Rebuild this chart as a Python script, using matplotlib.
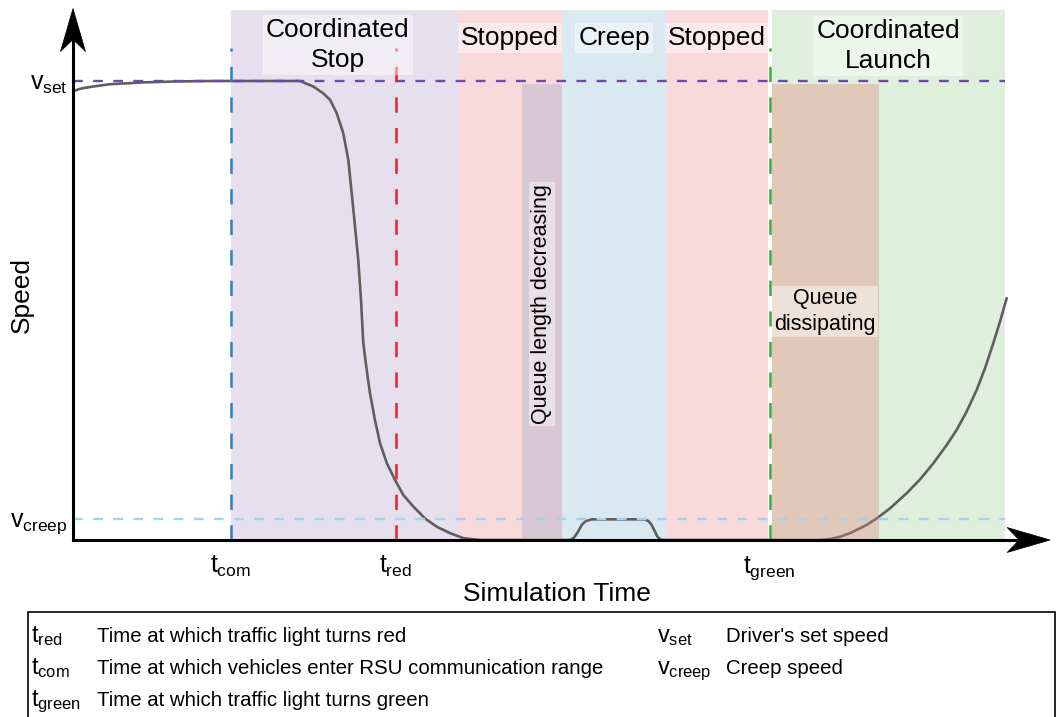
import numpy as np
import matplotlib
matplotlib.use('Agg')
import matplotlib.pyplot as plt
from matplotlib.patches import Polygon, Rectangle
from matplotlib.transforms import ScaledTranslation

plt.rcParams['font.family'] = ['Liberation Sans', 'DejaVu Sans']
plt.rcParams['mathtext.fontset'] = 'custom'
plt.rcParams['mathtext.rm'] = 'Liberation Sans'
plt.rcParams['mathtext.it'] = 'Liberation Sans'
plt.rcParams['mathtext.bf'] = 'Liberation Sans:bold'
plt.rcParams['lines.scale_dashes'] = False

# ---------------- data ----------------
t_com, t_red, t_green = 16.05, 32.8, 70.8
v_set, v_creep = 1.0, 0.046

phase_names = ['Coordinated\nStop', 'Stopped', 'Creep', 'Stopped', 'Coordinated\nLaunch']
phase_start = [16.05, 39.1, 49.7, 60.3, 71.0]
phase_end = [39.1, 49.7, 60.3, 70.6, 94.7]
phase_label_x = [26.9, 44.4, 55.0, 65.45, 82.85]
phase_label_y = [1.078, 1.094, 1.094, 1.094, 1.076]

queue_names = ['Queue length decreasing', 'Queue\ndissipating']
queue_start = [45.6, 71.0]
queue_end = [49.7, 81.9]
queue_top = 0.993

time = [0.2, 0.71, 1.2, 2.06, 3.76, 5.5, 7.1, 10.5, 14.0, 23.07,
        24.42, 25.44, 26.12, 26.80, 27.47, 27.98, 28.32, 28.66, 28.99, 29.27,
        29.50, 29.85, 30.18, 30.69, 31.20, 31.88, 32.72, 33.57, 34.58, 35.77,
        36.96, 38.31, 39.67, 41.36,
        50.5, 50.9, 51.3, 51.7, 52.1, 52.7, 58.1, 58.5, 58.8, 59.1, 59.4, 59.8,
        75.91, 76.93, 77.95, 78.96, 79.64, 80.66, 81.68, 83.03, 84.73, 86.08,
        87.43, 88.79, 89.81, 90.82, 91.84, 92.68, 93.53, 94.21, 94.89]
speed = [0.979, 0.983, 0.985, 0.988, 0.993, 0.995, 0.997, 0.999, 1.0, 1.0,
         0.988, 0.973, 0.959, 0.930, 0.886, 0.828, 0.756, 0.683, 0.610, 0.523,
         0.429, 0.370, 0.320, 0.261, 0.211, 0.168, 0.131, 0.098, 0.073, 0.047,
         0.029, 0.015, 0.004, 0.0,
         0.0, 0.005, 0.017, 0.033, 0.041, 0.045, 0.045, 0.041, 0.033, 0.020, 0.007, 0.0,
         0.0, 0.002, 0.007, 0.015, 0.022, 0.033, 0.047, 0.069, 0.102, 0.132,
         0.167, 0.207, 0.240, 0.280, 0.327, 0.374, 0.429, 0.476, 0.527]

legend_symbols_left = [r'$t_{red}$', r'$t_{com}$', r'$t_{green}$']
legend_text_left = ['Time at which traffic light turns red',
                    'Time at which vehicles enter RSU communication range',
                    'Time at which traffic light turns green']
legend_symbols_right = [r'$v_{set}$', r'$v_{creep}$']
legend_text_right = ["Driver's set speed", 'Creep speed']

# ---------------- styles ----------------
phase_colors = ['#E6E0EE', '#F8DADB', '#DAE8F2', '#F8DADB', '#DEEFDC']
queue_colors = ['#9DA9C6', '#E4837A']
W, H = 1057, 717
fig = plt.figure(figsize=(W / 100, H / 100), dpi=100)
ax = fig.add_axes([73 / W, (H - 540) / H, (W - 73) / W, 540 / H])
ax.set_xlim(0, 100)
ax.set_ylim(0, 540 / 459)
for s in ax.spines.values():
    s.set_visible(False)

region_top = 1.155
ymax_frac = region_top / ax.get_ylim()[1]
for s0, s1, c in zip(phase_start, phase_end, phase_colors):
    ax.axvspan(s0, s1, ymin=0, ymax=ymax_frac, color=c, lw=0, zorder=0)

ax.plot(time, speed, color='#5E5E5E', lw=1.9, zorder=3,
        solid_capstyle='round', solid_joinstyle='round')

for s0, s1, c in zip(queue_start, queue_end, queue_colors):
    ax.add_patch(Rectangle((s0, 0), s1 - s0, queue_top, facecolor=c, alpha=0.35,
                           lw=0, zorder=4))

# horizontal reference lines
ax.plot([0, 94.7], [v_set, v_set], color='#6F48A8', lw=1.7, dashes=(7, 7.5), zorder=5)
ax.plot([0, 94.7], [v_creep, v_creep], color='#A9D1E8', lw=1.7, dashes=(7, 7.5), zorder=5)

# vertical event lines
vtop = 1.072
ax.plot([t_com, t_com], [0, vtop], color='#2C7FC1', lw=1.8, dashes=(11, 11), zorder=5)
ax.plot([t_red, t_red], [0, vtop], color='#E8212B', lw=1.8, dashes=(11, 11), zorder=5)
ax.axvspan(t_green - 0.12, t_green + 0.12, ymin=0, ymax=ymax_frac,
           color='white', lw=0, zorder=1)
ax.plot([t_green, t_green], [0, vtop], color='#3BAA3B', lw=1.8, dashes=(11, 11), zorder=5)

# axes with arrows
ax.plot([0, 97.5], [0, 0], color='black', lw=2.2, zorder=6, clip_on=False)
ax.plot([0, 0], [0, 1.12], color='black', lw=2.2, zorder=6, clip_on=False)


def arrow_head(x, y, direction):
    L, w, n = 0.43, 0.125, 0.31
    if direction == 'up':
        verts = [(0, 0), (-w, -L), (0, -n), (w, -L)]
    else:
        verts = [(0, 0), (-L, w), (-n, 0), (-L, -w)]
    tr = fig.dpi_scale_trans + ScaledTranslation(x, y, ax.transData)
    ax.add_patch(Polygon(verts, closed=True, facecolor='black', edgecolor='black',
                         lw=0.5, transform=tr, clip_on=False, zorder=7))


arrow_head(0, 1.158, 'up')
arrow_head(99.3, 0, 'right')

# phase labels
lbox = dict(boxstyle='square,pad=0.12', fc=(1, 1, 1, 0.45), ec='none')
for name, x, y in zip(phase_names, phase_label_x, phase_label_y):
    ax.text(x, y, name, ha='center', va='center', fontsize=19, zorder=8,
            bbox=lbox, linespacing=1.33)
for i, name in enumerate(queue_names):
    cx = (queue_start[i] + queue_end[i]) / 2
    if i == 0:
        ax.text(cx, 0.514, name, rotation=90, ha='center', va='center', fontsize=15.5,
                zorder=8, bbox=dict(boxstyle='square,pad=0.1', fc=(1, 1, 1, 0.45), ec='none'))
    else:
        ax.text(cx, 0.497, name, ha='center', va='center', fontsize=15.5, zorder=8,
                linespacing=1.3,
                bbox=dict(boxstyle='square,pad=0.1', fc=(1, 1, 1, 0.45), ec='none'))

# ticks
ax.set_xticks([t_com, t_red, t_green], labels=[r'$t_{com}$', r'$t_{red}$', r'$t_{green}$'])
ax.set_yticks([v_creep, v_set], labels=[r'$v_{creep}$', r'$v_{set}$'])
ax.tick_params(axis='x', length=0, pad=10, labelsize=18)
ax.tick_params(axis='y', length=0, pad=4, labelsize=18)

fig.text(557 / W, 1 - 594 / H, 'Simulation Time', ha='center', va='center', fontsize=19)
fig.text(22 / W, 1 - 295 / H, 'Speed', ha='center', va='center', fontsize=19, rotation=90)

# legend box
fig.patches.append(Rectangle((28 / W, -0.02), (1055 - 28) / W, 0.02 + (H - 612) / H,
                             transform=fig.transFigure, fill=False, ec='black', lw=1.2))
rows = [642, 674, 706]
for sym, txt, yb in zip(legend_symbols_left, legend_text_left, rows):
    fig.text(31 / W, 1 - yb / H, sym, ha='left', va='baseline', fontsize=17)
    fig.text(97 / W, 1 - yb / H, txt, ha='left', va='baseline', fontsize=14.7)
for sym, txt, yb in zip(legend_symbols_right, legend_text_right, rows):
    fig.text(657 / W, 1 - yb / H, sym, ha='left', va='baseline', fontsize=17)
    fig.text(726 / W, 1 - yb / H, txt, ha='left', va='baseline', fontsize=14.7)

fig.savefig('out.png', dpi=100)
